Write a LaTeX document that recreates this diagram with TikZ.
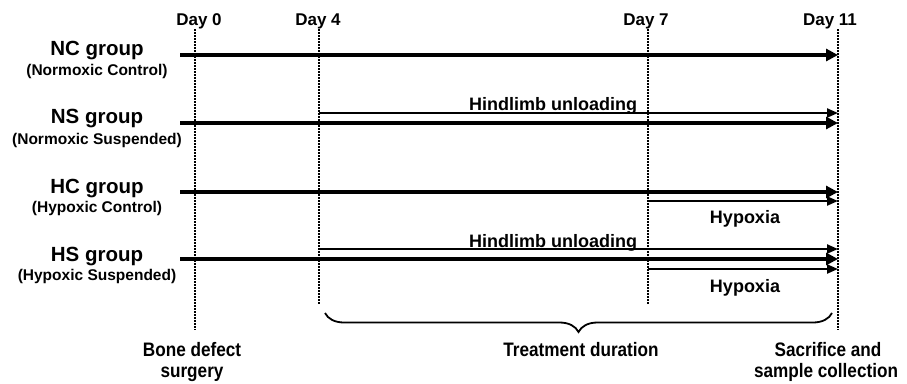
\documentclass[tikz,border=0pt]{standalone}
\usepackage{fontspec}
\setmainfont{Liberation Sans}
\newfontfamily\narrowfont[FakeStretch=0.88]{Liberation Sans}
\usetikzlibrary{arrows.meta,decorations.pathreplacing}
\begin{document}
\begin{tikzpicture}[x=1pt,y=-1pt,
  lbl/.style={inner sep=0pt,anchor=base,font=\bfseries\fontsize{17}{20}\selectfont},
  grp/.style={inner sep=0pt,anchor=base,font=\bfseries\fontsize{20.5}{22}\selectfont},
  sub/.style={inner sep=0pt,anchor=base,font=\bfseries\fontsize{15.5}{18}\selectfont},
  act/.style={inner sep=0pt,anchor=base,font=\bfseries\fontsize{18}{20}\selectfont},
  bot/.style={inner sep=0pt,anchor=base,font=\narrowfont\bfseries\fontsize{19.5}{22}\selectfont},
  dayline/.style={line width=1.4pt,dash pattern=on 1.5pt off 1.5pt},
  thick arrow/.style={line width=3.4pt,-{Triangle[length=12pt,width=12pt]}},
  thin arrow/.style={line width=2.2pt,-{Triangle[length=11pt,width=9pt]}}]
\useasboundingbox (0,0) rectangle (907,383);
% day markers
\node[lbl] (d0) at (199,25) {Day 0};
\node[lbl] (d4) at (318,25) {Day 4};
\node[lbl] (d7) at (646,25) {Day 7};
\node[lbl] (d11) at (830,25) {Day 11};
\coordinate (d0t) at (195,29); \coordinate (d0b) at (195,330);
\coordinate (d4t) at (319,29); \coordinate (d4b) at (319,305);
\coordinate (d7t) at (648,29); \coordinate (d7b) at (648,305);
\coordinate (d11t) at (838,29); \coordinate (d11b) at (838,330);
\draw[dayline] (d0t) -- (d0b);
\draw[dayline] (d4t) -- (d4b);
\draw[dayline] (d7t) -- (d7b);
\draw[dayline] (d11t) -- (d11b);
% group labels
\node[grp] (nc) at (97,55) {NC group};
\node[sub] (ncs) at (97,75) {(Normoxic Control)};
\node[grp] (ns) at (97,123) {NS group};
\node[sub] (nss) at (97,144) {(Normoxic Suspended)};
\node[grp] (hc) at (97,193) {HC group};
\node[sub] (hcs) at (97,212) {(Hypoxic Control)};
\node[grp] (hs) at (97,261) {HS group};
\node[sub] (hss) at (97,280) {(Hypoxic Suspended)};
% arrow end points
\coordinate (ncA) at (180,55);  \coordinate (ncB) at (838,55);
\coordinate (nsA) at (180,123); \coordinate (nsB) at (838,123);
\coordinate (nsuA) at (319,113); \coordinate (nsuB) at (838,113);
\coordinate (hcA) at (180,192); \coordinate (hcB) at (838,192);
\coordinate (hcxA) at (648,201); \coordinate (hcxB) at (838,201);
\coordinate (hsuA) at (319,249); \coordinate (hsuB) at (838,249);
\coordinate (hsA) at (180,259); \coordinate (hsB) at (838,259);
\coordinate (hsxA) at (648,269); \coordinate (hsxB) at (838,269);
\draw[thick arrow] (ncA) -- (ncB);
\draw[thick arrow] (nsA) -- (nsB);
\draw[thin arrow] (nsuA) -- (nsuB);
\draw[thick arrow] (hcA) -- (hcB);
\draw[thin arrow] (hcxA) -- (hcxB);
\draw[thin arrow] (hsuA) -- (hsuB);
\draw[thick arrow] (hsA) -- (hsB);
\draw[thin arrow] (hsxA) -- (hsxB);
% activity labels
\node[act] (hu1) at (553,110) {Hindlimb unloading};
\node[act] (hu2) at (553,247) {Hindlimb unloading};
\node[act] (hx1) at (745,223) {Hypoxia};
\node[act] (hx2) at (745,292) {Hypoxia};
% brace
\coordinate (brA) at (325,313); \coordinate (brB) at (832,313);
\draw[line width=1.8pt,decorate,decoration={brace,mirror,amplitude=19pt}] (brA) -- (brB);
% bottom labels
\node[bot] (b1) at (192,356) {Bone defect};
\node[bot] (b2) at (192,377) {surgery};
\node[bot] (tr) at (581,356) {Treatment duration};
\node[bot] (s1) at (828,356) {Sacrifice and};
\node[bot] (s2) at (826,377) {sample collection};
\end{tikzpicture}
\end{document}
